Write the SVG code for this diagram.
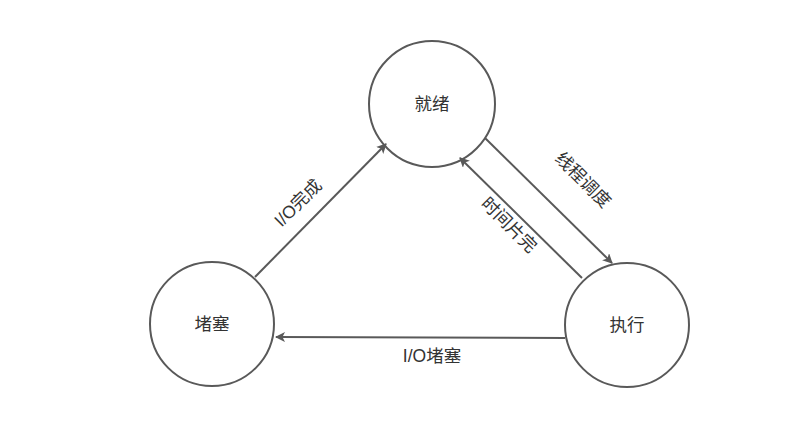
<svg xmlns="http://www.w3.org/2000/svg" width="794" height="431" viewBox="0 0 794 431">
<style>
.n{fill:#fff;stroke:#595959;stroke-width:2}
.t{font-family:"Liberation Sans","Noto Sans CJK SC",sans-serif;font-size:17.5px;fill:#333;text-anchor:middle;dominant-baseline:central}
.e{stroke:#595959;stroke-width:2;fill:none;marker-end:url(#a)}
</style>
<defs>
<marker id="a" viewBox="0 0 10 10" refX="9" refY="5" markerWidth="5" markerHeight="5" orient="auto" markerUnits="strokeWidth">
<path d="M0,0 L10,5 L0,10 L2.5,5 z" fill="#595959"/>
</marker>
</defs>
<rect width="794" height="431" fill="#fff"/>
<g id="ready"><circle class="n" cx="432" cy="104" r="63"/><text class="t" x="432" y="104">就绪</text></g>
<g id="blocked"><circle class="n" cx="212" cy="324" r="62"/><text class="t" x="212" y="324">堵塞</text></g>
<g id="running"><circle class="n" cx="627" cy="325" r="62"/><text class="t" x="627" y="325">执行</text></g>
<g id="edges">
<path class="e" d="M255,277 L386,144"/>
<path class="e" d="M485,138 L612,263"/>
<path class="e" d="M582,278 L460,158"/>
<path class="e" d="M565,338 L276,337"/>
<text class="t" transform="translate(298,203) rotate(-45)">I/O完成</text>
<text class="t" transform="translate(583,180) rotate(45)">线程调度</text>
<text class="t" transform="translate(509,225) rotate(45)">时间片完</text>
<text class="t" x="432" y="356">I/O堵塞</text>
</g>
</svg>
